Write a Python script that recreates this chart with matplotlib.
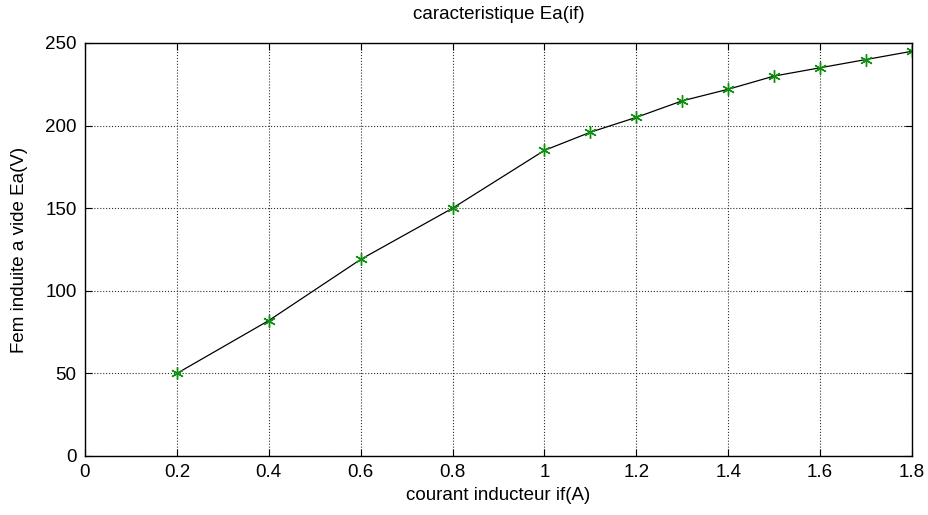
import matplotlib
matplotlib.use("Agg")
import matplotlib.pyplot as plt

# courant inducteur if (A) and fem a vide Ea (V)
i_f = [0.2, 0.4, 0.6, 0.8, 1.0, 1.1, 1.2, 1.3, 1.4, 1.5, 1.6, 1.7, 1.8]
Ea = [50, 82, 119, 150, 185, 196, 205, 215, 222, 230, 235, 240, 245]

xticks = [0, 0.2, 0.4, 0.6, 0.8, 1, 1.2, 1.4, 1.6, 1.8]
xticklabels = ["0", "0.2", "0.4", "0.6", "0.8", "1", "1.2", "1.4", "1.6", "1.8"]
yticks = [0, 50, 100, 150, 200, 250]

plt.rcParams['font.family'] = ['Liberation Sans', 'DejaVu Sans']
plt.rcParams['font.size'] = 13.5

fig = plt.figure(figsize=(9.29, 5.15), dpi=100)
ax = fig.add_axes([85/929, 1-456/515, (912-85)/929, (456-43)/515])

ax.plot(i_f, Ea, color='k', linewidth=0.9)
ax.plot(i_f, Ea, linestyle='', marker=(6, 2, 0), markersize=9,
        markeredgecolor='#109010', markeredgewidth=1.0)

ax.set_xlim(0, 1.8)
ax.set_ylim(0, 250)
ax.set_xticks(xticks)
ax.set_xticklabels(xticklabels)
ax.set_yticks(yticks)
ax.grid(True, linestyle=':', color='#303030', linewidth=0.8)
ax.tick_params(direction='in', top=True, right=True, length=5, width=0.8, pad=6)
for s in ax.spines.values():
    s.set_linewidth(1.0)

ax.set_title("caracteristique Ea(if)", fontsize=13.5, pad=17)
ax.set_xlabel("courant inducteur if(A)", labelpad=4)
ax.set_ylabel("Fem induite a vide Ea(V)", labelpad=12)

fig.savefig("out.png", dpi=100)
